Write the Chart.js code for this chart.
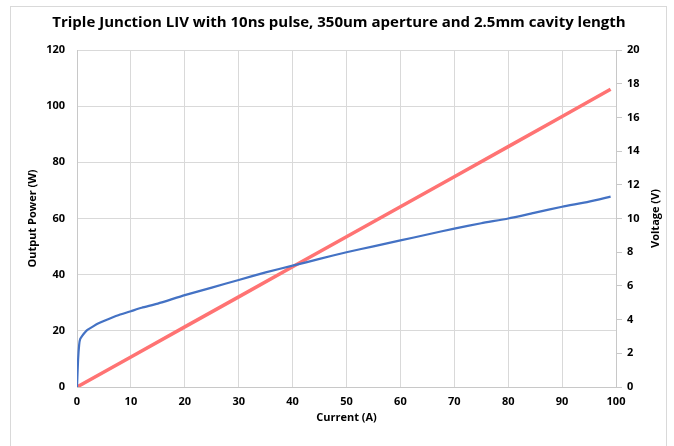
<!DOCTYPE html>
<html>
<head>
<script src="https://cdn.jsdelivr.net/npm/chart.js@4"></script>
<style>
	body{margin:0;background:#fff;}
	#wrap{width:674px;height:446px;}
</style>
</head>
<body>
<div id="wrap"><canvas id="liv"></canvas></div>
<script>
	// voltage curve (right axis)
	var current = [0, 0.2, 0.4, 0.6, 1, 1.5, 2, 3, 4, 6, 8, 10, 12, 15, 20, 25, 30, 35, 40, 45, 50, 55, 60, 65, 70, 75, 80, 85, 90, 95, 99];
	var voltage = [0, 1.6, 2.5, 2.85, 3.05, 3.25, 3.4, 3.6, 3.78, 4.05, 4.3, 4.5, 4.7, 4.95, 5.45, 5.9, 6.35, 6.8, 7.2, 7.6, 8.0, 8.35, 8.7, 9.05, 9.4, 9.72, 10.0, 10.35, 10.7, 11.0, 11.3];
	// output power (left axis)
	var powerCurrent = [0, 10, 20, 30, 40, 50, 60, 70, 80, 90, 99];
	var power = [0, 10.7, 21.4, 32.1, 42.8, 53.5, 64.2, 74.9, 85.6, 96.3, 106];

	var chartTitle = "Triple Junction LIV with 10ns pulse, 350um aperture and 2.5mm cavity length";
	var fontName = "'Open Sans', 'DejaVu Sans', sans-serif";
	var gridColor = "#d9d9d9";

	function toPoints(xs, ys){
		var out = [];
		for(var i = 0;i<xs.length;i++){
			out.push({x:xs[i], y:ys[i]});
		}
		return out;
	}

	var extras = {
		id:"extras",
		beforeDraw:function(chart){
			var ctx = chart.ctx;
			ctx.save();
			ctx.strokeStyle = "#d9d9d9";
			ctx.lineWidth = 1;
			ctx.strokeRect(10.5, 6.5, 656, 460);
			ctx.restore();
		},
		afterDraw:function(chart){
			var ctx = chart.ctx;
			var area = chart.chartArea;
			var mid = (area.top + area.bottom)/2;
			ctx.save();
			ctx.fillStyle = "#000";
			ctx.font = "bold 11px " + fontName;
			ctx.textAlign = "center";
			ctx.textBaseline = "middle";
			ctx.translate(33, mid);
			ctx.rotate(-Math.PI/2);
			ctx.fillText("Output Power (W)", 0, 0);
			ctx.restore();
			ctx.save();
			ctx.fillStyle = "#000";
			ctx.font = "bold 11px " + fontName;
			ctx.textAlign = "center";
			ctx.textBaseline = "middle";
			ctx.translate(656, mid);
			ctx.rotate(-Math.PI/2);
			ctx.fillText("Voltage (V)", 0, 0);
			ctx.restore();
		}
	};

	var target = document.querySelector("#liv").getContext("2d");
	var livChart = new Chart(target,{
		type:"scatter",
		data:{
			datasets:[{
				label:"Voltage",
				data:toPoints(current, voltage),
				yAxisID:"yV",
				showLine:true,
				borderColor:"#4472c4",
				borderWidth:2.2,
				pointRadius:0,
				tension:0.2
			},{
				label:"Output Power",
				data:toPoints(powerCurrent, power),
				yAxisID:"yP",
				showLine:true,
				borderColor:"#ff7373",
				borderWidth:3.5,
				pointRadius:0
			}]
		},
		options:{
			responsive:true,
			maintainAspectRatio:false,
			animation:false,
			layout:{padding:{top:8, left:12, right:8, bottom:18}},
			plugins:{
				legend:{display:false},
				tooltip:{enabled:false},
				title:{
					display:true,
					text:chartTitle,
					color:"#000",
					font:{family:fontName, size:15, weight:"bold"},
					padding:{top:6, bottom:18}
				}
			},
			scales:{
				x:{
					type:"linear",
					min:0, max:100,
					ticks:{stepSize:10, color:"#000", font:{family:fontName, size:11, weight:"bold"}, padding:8},
					grid:{color:gridColor, drawTicks:false},
					border:{color:"#c8c8c8"},
					title:{display:true, text:"Current (A)", color:"#000", font:{family:fontName, size:11, weight:"bold"}, padding:{top:2}},
					afterFit:function(s){ s.height = 41; }
				},
				yP:{
					type:"linear",
					position:"left",
					min:0, max:120,
					ticks:{stepSize:20, color:"#000", font:{family:fontName, size:11, weight:"bold"}, padding:12},
					grid:{color:gridColor, drawTicks:false},
					border:{color:"#c8c8c8"},
					afterFit:function(s){ s.width = 65; }
				},
				yV:{
					type:"linear",
					position:"right",
					min:0, max:20,
					ticks:{stepSize:2, color:"#000", font:{family:fontName, size:11, weight:"bold"}, padding:5},
					grid:{drawOnChartArea:false, color:"#c8c8c8", tickLength:6},
					border:{color:"#c8c8c8"},
					afterFit:function(s){ s.width = 50; }
				}
			}
		},
		plugins:[extras]
	});
</script>
</body>
</html>
